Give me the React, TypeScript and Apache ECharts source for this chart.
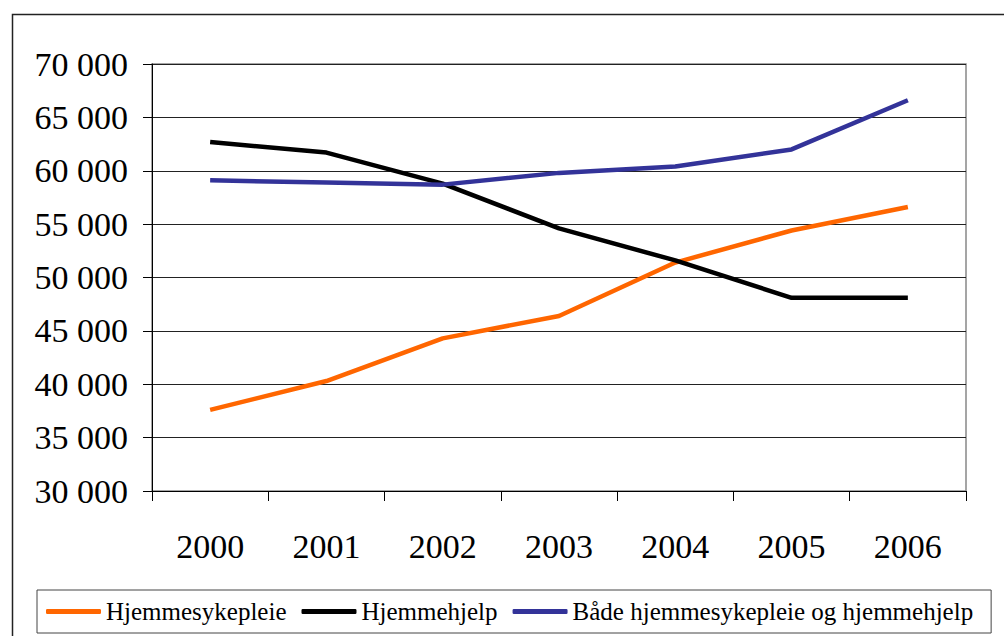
import React, { useEffect, useRef } from "react";
import * as echarts from "echarts";

const years = ["2000", "2001", "2002", "2003", "2004", "2005", "2006"];
const hjemmesykepleie = [37600, 40300, 44300, 46400, 51400, 54400, 56600];
const hjemmehjelp = [62700, 61700, 58800, 54600, 51600, 48100, 48100];
const begge = [59100, 58900, 58700, 59800, 60400, 62000, 66600];
const seriesNames = ["Hjemmesykepleie", "Hjemmehjelp", "Både hjemmesykepleie og hjemmehjelp"];
const seriesColors = ["#FF6600", "#000000", "#333399"];

const FONT = "Times New Roman, Liberation Serif, serif";

export default function App() {
  const ref = useRef<HTMLDivElement>(null);
  useEffect(() => {
    if (!ref.current) return;
    const chart = echarts.init(ref.current, undefined, { renderer: "svg" });
    const data = [hjemmesykepleie, hjemmehjelp, begge];
    chart.setOption({
      animation: false,
      backgroundColor: "#ffffff",
      textStyle: { fontFamily: FONT },
      graphic: [
        {
          type: "rect",
          left: 10,
          top: 12,
          shape: { width: 1010, height: 640 },
          style: { fill: "none", stroke: "#222", lineWidth: 1.5 },
          silent: true,
        },
      ],
      grid: { left: 152, top: 64, right: 38, bottom: 145, show: true, borderColor: "#888", borderWidth: 1.5 },
      xAxis: {
        type: "category",
        data: years,
        boundaryGap: true,
        axisLine: { show: true, lineStyle: { color: "#000", width: 1 } },
        axisTick: { show: true, length: 10, alignWithLabel: false, lineStyle: { color: "#000" } },
        axisLabel: { color: "#000", fontSize: 34, fontFamily: FONT, margin: 38 },
        splitLine: { show: false },
      },
      yAxis: {
        type: "value",
        min: 30000,
        max: 70000,
        interval: 5000,
        axisLine: { show: true, lineStyle: { color: "#000", width: 1 } },
        axisTick: { show: true, length: 9, lineStyle: { color: "#000" } },
        axisLabel: {
          color: "#000",
          fontSize: 34,
          fontFamily: FONT,
          margin: 24,
          formatter: (v: number) => String(v).replace(/\B(?=(\d{3})+(?!\d))/g, " "),
        },
        splitLine: { show: true, lineStyle: { color: "#222", width: 1 } },
      },
      legend: {
        left: 37,
        top: 590,
        orient: "horizontal",
        padding: [9, 18, 9, 9],
        borderColor: "#444",
        borderWidth: 1,
        itemWidth: 55,
        itemHeight: 5,
        itemGap: 15,
        icon: "roundRect",
        textStyle: { color: "#000", fontSize: 25, fontFamily: FONT },
        data: seriesNames,
      },
      series: seriesNames.map((name, i) => ({
        name,
        type: "line",
        data: data[i],
        symbol: "none",
        color: seriesColors[i],
        lineStyle: { color: seriesColors[i], width: 4.5 },
        itemStyle: { color: seriesColors[i] },
      })),
    });
    return () => chart.dispose();
  }, []);
  return (
    <div
      ref={ref}
      style={{ position: "absolute", left: 0, top: 0, width: 1004, height: 636 }}
    />
  );
}
